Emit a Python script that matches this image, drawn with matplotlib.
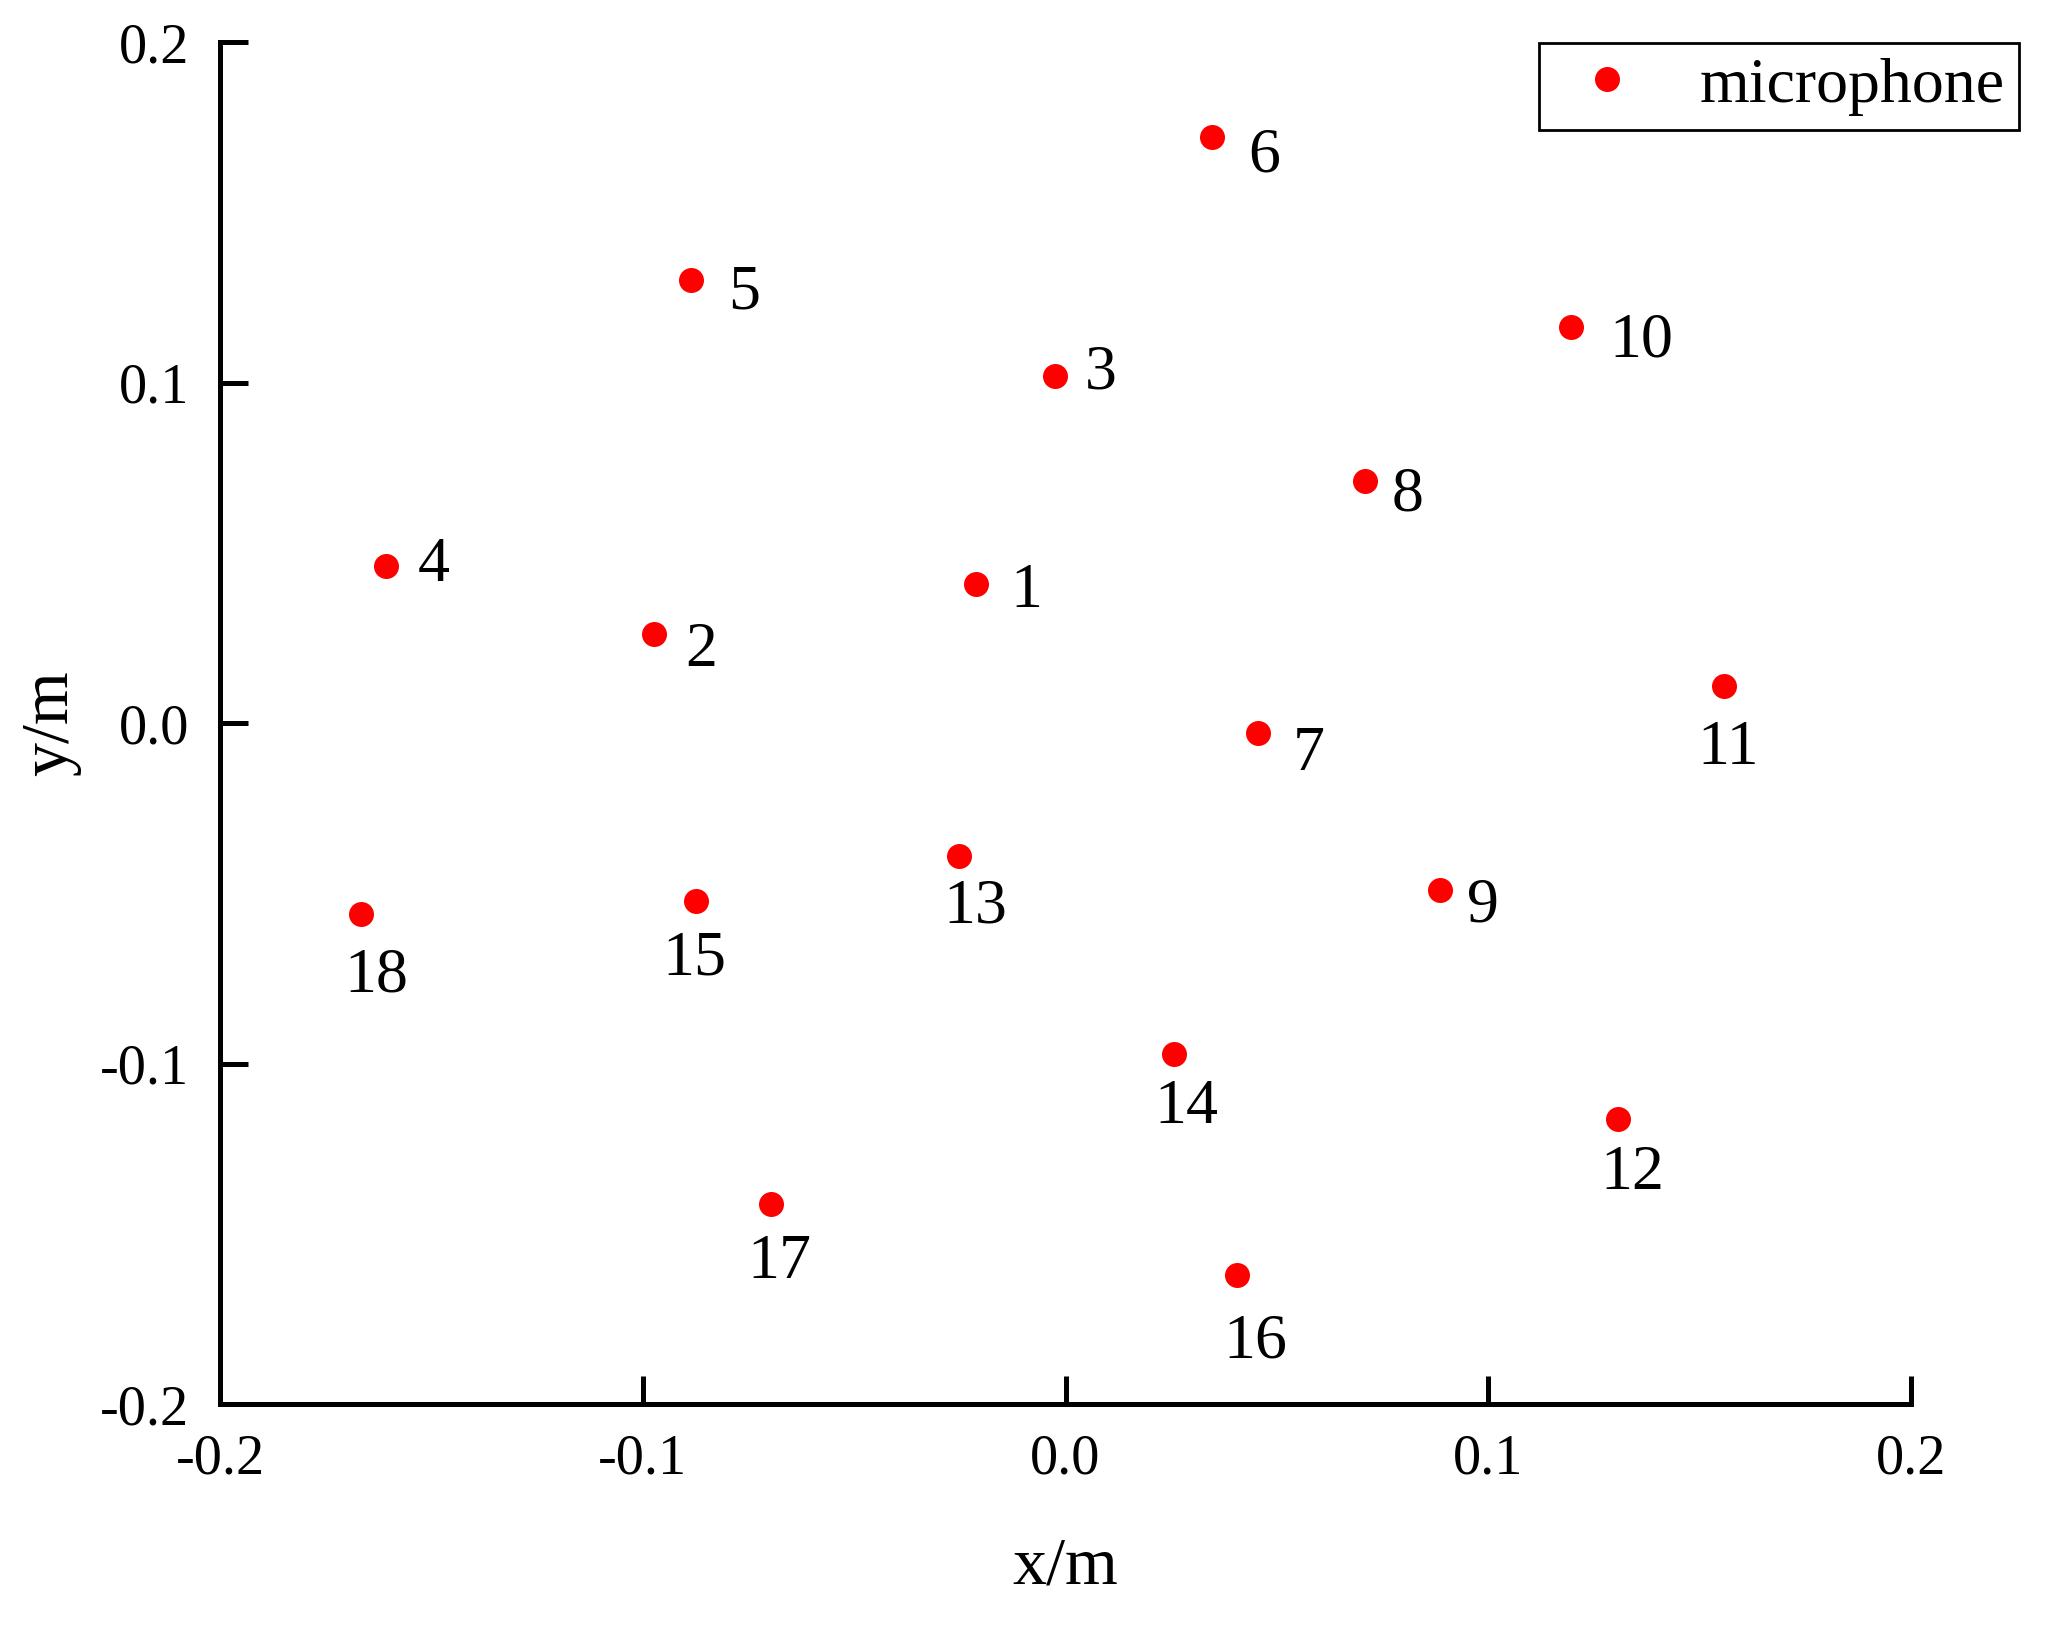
import matplotlib
matplotlib.use("Agg")
import matplotlib.pyplot as plt
from matplotlib.ticker import FormatStrFormatter, MultipleLocator

plt.rcParams['font.family'] = ['Liberation Serif', 'DejaVu Serif']
plt.rcParams['axes.unicode_minus'] = False

mic_ids = [str(i) for i in range(1, 19)]
mic_x = [-0.0212, -0.0973, -0.0025, -0.1607, -0.0886, 0.0346, 0.0456, 0.0708, 0.0886,
         0.1195, 0.1557, 0.1307, -0.0253, 0.0256, -0.0874, 0.0406, -0.0696, -0.1666]
mic_y = [0.0409, 0.0262, 0.1018, 0.0460, 0.1302, 0.1721, -0.0029, 0.0712, -0.0491,
         0.1162, 0.0110, -0.1162, -0.0390, -0.0972, -0.0522, -0.1620, -0.1414, -0.0561]

# label offsets (points): right-side for 1-10, below for 11-18
label_dx = [36, 34, 33, 34, 38, 38, 36, 31, 31, 51, 3, 10, 12, 9, -1, 13, 6, 11]
label_dy = [-1, -7, 7, 5, -5, -9, -11, -6, -7, -5, -41, -35, -32, -34, -37, -44, -37, -40]

fig = plt.figure(figsize=(20.69, 16.46), dpi=100)
ax = fig.add_axes([220/2069, 1 - 1404/1646, (1911-220)/2069, (1404-42)/1646])

ax.plot(mic_x, mic_y, linestyle='none', marker='o', markersize=18, color='#ff0000',
        markeredgewidth=0, label='microphone')

for lab, x, y, dx, dy in zip(mic_ids, mic_x, mic_y, label_dx, label_dy):
    ax.annotate(lab, (x, y), xytext=(dx, dy), textcoords='offset points',
                ha='center', va='center_baseline', fontsize=46)

ax.set_xlim(-0.2, 0.2)
ax.set_ylim(-0.2, 0.2)
ax.xaxis.set_major_locator(MultipleLocator(0.1))
ax.yaxis.set_major_locator(MultipleLocator(0.1))
ax.xaxis.set_major_formatter(FormatStrFormatter('%.1f'))
ax.yaxis.set_major_formatter(FormatStrFormatter('%.1f'))

for s in ['top', 'right']:
    ax.spines[s].set_visible(False)
for s in ['left', 'bottom']:
    ax.spines[s].set_linewidth(3.6)

ax.tick_params(axis='both', direction='in', length=20, width=3.6, labelsize=40.5)
ax.tick_params(axis='x', pad=21)
ax.tick_params(axis='y', pad=22)

ax.set_xlabel('x/m', fontsize=49, labelpad=37)
ax.set_ylabel('y/m', fontsize=49, labelpad=14)

leg = ax.legend(loc='upper right', bbox_to_anchor=(2019/2069, 1 - 43/1646),
                bbox_transform=fig.transFigure, fontsize=46, frameon=True,
                fancybox=False, framealpha=1, edgecolor='black', borderpad=0.22,
                handlelength=1.7, handletextpad=0.6, borderaxespad=0)
leg.get_frame().set_linewidth(2)

fig.savefig('out.png', dpi=100)
